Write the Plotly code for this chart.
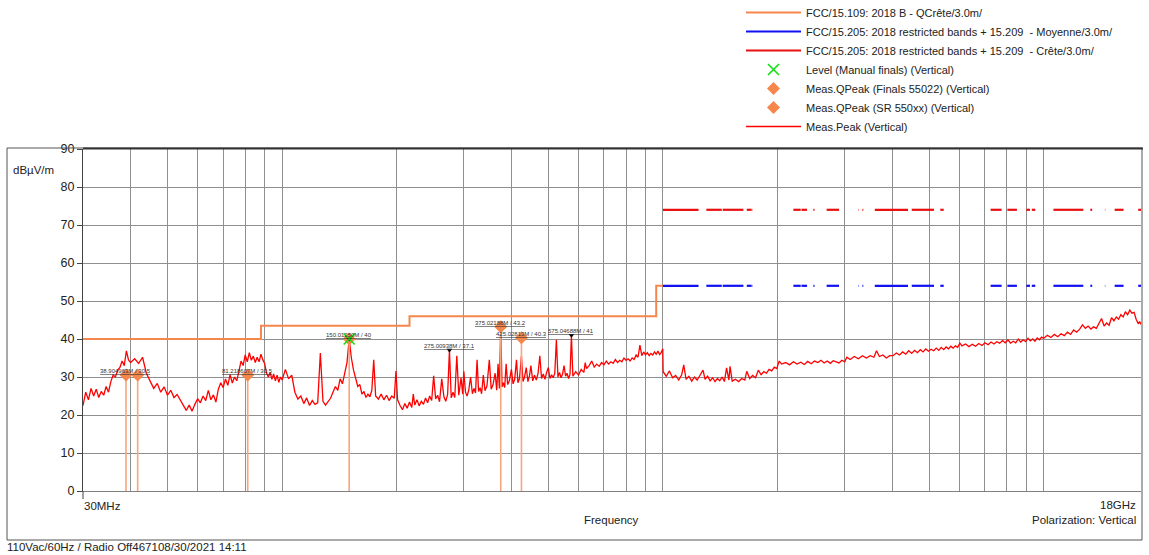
import math
import plotly.graph_objects as go

# ---------------- data ----------------
# FCC 15.109 class B quasi-peak limit (MHz, dBuV/m)
qp_limit_freq = [30, 88, 88, 216, 216, 960, 960, 1000]
qp_limit_level = [40, 40, 43.5, 43.5, 46, 46, 54, 54]

# FCC 15.205 restricted bands above 1 GHz (MHz)
restricted_bands = [
    (1000, 1240), (1300, 1427), (1435, 1626.5), (1645.5, 1646.5), (1660, 1710),
    (1718.8, 1722.2), (2200, 2300), (2310, 2390), (2483.5, 2500), (2690, 2900),
    (3260, 3267), (3332, 3339), (3345.8, 3358), (3600, 4400), (4500, 5150),
    (5350, 5460), (7250, 7750), (8025, 8500), (9000, 9200), (9300, 9500),
    (10600, 12700), (13250, 13400), (14470, 14500), (15350, 16200), (17700, 18000),
]
avg_limit_level = 54
peak_limit_level = 74

# Measured peak sweep (MHz, dBuV/m)
peak_freq = [
    30, 30.5, 31, 31.5, 32, 32.5, 33, 33.5, 34, 34.5, 35, 35.5, 36, 36.5, 37, 37.5, 38, 38.5, 39, 39.5, 40,
    41, 42, 43, 44, 45, 46, 47, 48, 49, 50, 51, 52, 53, 54, 55, 56, 57, 58, 59, 60,
    61, 62, 63, 64, 65, 66, 67, 68, 69, 70,
    71, 72, 73, 74, 75, 76, 77, 78, 79, 80, 81, 82, 83, 84, 85, 86, 87, 88, 89, 90,
    91, 92, 93, 94, 95, 96, 97, 98, 99, 100,
    102, 104, 106, 108, 110, 112, 114, 116, 118, 120, 122, 124, 126, 128, 130, 132, 134, 136, 138, 140,
    142, 144, 146, 148, 150, 152, 154, 156, 158, 160, 162, 164, 166, 168, 170,
    172, 174, 176, 179, 182, 185, 188, 191, 194, 197, 199, 201, 204, 207, 210, 213, 216, 219, 221, 223,
    226, 229, 232, 235, 238, 241, 244, 247, 250, 253,
    256, 259, 262.5, 266, 269, 272, 275, 278, 281, 284, 287.5, 291, 295, 298, 300, 303, 306, 309, 312.5,
    316, 319, 322, 325, 328, 331, 334, 337.5, 341, 345, 350, 354, 358, 362.5, 366, 369, 372, 375, 378,
    381, 384, 387.5, 391, 395, 400, 404, 408, 412.5, 416, 420, 425, 429, 433, 437.5, 442, 446, 450, 455,
    460, 465, 470, 475, 480, 485, 490, 495, 500, 505, 510, 515, 520, 525, 530, 535, 540, 545, 550, 555,
    560, 565, 570, 575, 580, 590, 600, 610, 620, 625, 630, 640, 650, 660, 670, 680, 690, 700, 710, 720,
    730, 740, 750, 760, 770, 780, 790, 800, 810, 820, 830, 840, 850, 860, 870, 880, 890, 900, 910, 920,
    930, 940, 950, 960, 970, 980, 990, 999,
    1001, 1020, 1040, 1060, 1080, 1100, 1120, 1134, 1150, 1170, 1190, 1210, 1230, 1250, 1274, 1290,
    1310, 1330, 1350, 1370, 1390, 1410, 1430, 1450, 1469, 1490, 1500, 1520, 1550, 1580, 1610, 1640,
    1660, 1690, 1720, 1750, 1780, 1810, 1840, 1870, 1900, 1930, 1960, 1990, 2020, 2050, 2100, 2150,
    2200, 2250, 2300, 2350, 2400, 2450, 2500, 2550, 2600, 2650, 2700, 2750, 2800, 2850, 2900, 2950,
    3000, 3040, 3100, 3180, 3260, 3340, 3420, 3500, 3580, 3637, 3700, 3780, 3860, 3940,
    4020, 4100, 4180, 4260, 4340, 4420, 4500, 4580, 4660, 4740, 4820, 4900, 4980, 5060, 5140, 5220,
    5300, 5380, 5460, 5540, 5620, 5700, 5780, 5860, 5940, 6020, 6100, 6230, 6360, 6490, 6620, 6750,
    6880, 7010, 7140, 7270, 7400, 7530, 7660, 7790, 7920, 8050, 8180, 8310, 8440, 8570, 8700, 8830,
    8960, 9090, 9220, 9350, 9480, 9610, 9740, 9870, 10000, 10220, 10440, 10660, 10880, 11100, 11320,
    11540, 11760, 11980, 12200, 12420, 12640, 12860, 13080, 13300, 13520, 13740, 13960, 14180, 14400,
    14620, 14840, 15060, 15280, 15500, 15720, 15940, 16160, 16380, 16600, 16820, 17040, 17260, 17480,
    17700, 17850, 18000,
]
peak_level = [
    22.5, 26.0, 24.0, 27.0, 25.0, 26.8, 24.6, 26.2, 25.2, 27.5, 26.0, 28.8, 30.5, 30.0, 31.8, 32.5, 34.2, 33.0, 36.9, 34.5, 33.8,
    34.8, 33.6, 35.2, 31.0, 29.0, 27.0, 28.3, 26.0, 27.4, 25.2, 26.5, 24.6, 25.4, 24.0, 22.5, 21.2, 22.6, 21.0, 22.8, 24.3,
    23.2, 25.0, 23.8, 26.5, 24.0, 25.3, 23.4, 26.8, 28.5, 27.2,
    29.5, 27.8, 30.6, 28.4, 30.0, 29.0, 31.5, 34.2, 33.0, 35.8, 34.0, 36.4, 34.4, 35.5, 33.8, 35.2, 34.0, 36.0, 34.5, 33.5,
    31.0, 30.0, 31.2, 29.4, 30.8, 29.0, 30.5, 28.6, 30.0, 29.2,
    32.0, 29.5, 30.5, 26.0, 24.2, 25.0, 23.0, 24.5, 22.5, 23.8, 22.8, 23.2, 36.3, 23.6, 22.6, 23.5, 24.4, 26.0, 27.5, 26.5,
    29.5, 28.2, 31.5, 33.8, 40.0, 35.0, 31.8, 29.5, 27.5, 28.0, 25.5, 26.2, 24.6, 25.5, 24.8,
    26.5, 34.5, 25.0, 24.2, 25.5, 24.0, 25.2, 23.8, 25.0, 24.4, 31.6, 24.0, 22.5, 21.4, 23.0, 21.8, 23.4, 22.0, 25.5, 22.6,
    24.0, 22.4, 23.6, 22.8, 24.5, 23.2, 25.0, 23.8, 30.3, 24.2,
    25.2, 23.5, 29.5, 24.8, 23.6, 25.4, 37.1, 24.5, 26.0, 24.6, 35.6, 25.2, 29.8, 25.5, 31.5, 26.0, 25.0, 26.5, 30.0,
    25.6, 27.0, 25.8, 34.5, 26.2, 27.2, 25.6, 30.5, 26.4, 27.6, 34.5, 26.8, 28.0, 31.0, 26.5, 33.5, 27.0, 43.2, 27.4,
    28.5, 27.2, 33.5, 28.0, 29.0, 32.0, 28.2, 29.4, 34.5, 28.5, 29.6, 35.5, 28.8, 30.0, 32.5, 28.8, 30.2, 33.0, 29.0,
    30.5, 29.2, 31.0, 35.6, 29.6, 30.8, 29.4, 31.2, 32.5, 29.6, 30.6, 29.8, 31.0, 39.8, 30.0, 31.2, 29.8, 30.8, 33.0, 30.2,
    31.0, 29.6, 30.6, 41.0, 30.2, 31.4, 30.5, 32.0, 31.2, 33.8, 32.2, 33.0, 34.2, 32.6, 33.4, 32.8, 33.8, 33.2, 34.2, 33.4,
    34.0, 33.6, 34.6, 33.8, 34.4, 34.0, 35.0, 34.4, 34.8, 34.2, 35.0, 34.6, 35.8, 35.2, 38.4, 35.6, 36.6, 35.8, 36.4, 35.6,
    36.2, 35.8, 36.6, 36.0, 36.8, 35.9, 36.5, 37.4,
    31.4, 30.2, 31.6, 29.8, 30.4, 29.2, 30.6, 33.2, 29.4, 30.2, 28.9, 30.0, 29.2, 30.4, 31.8, 29.4,
    30.2, 29.0, 29.8, 28.8, 29.6, 29.0, 30.0, 28.8, 32.4, 29.2, 32.8, 28.9, 29.4, 28.8, 29.6, 29.2,
    31.5, 29.6, 30.4, 29.8, 31.8, 30.6, 31.4, 31.0, 32.0, 31.6, 32.6, 32.2, 34.2, 33.4, 33.8, 33.2,
    34.0, 33.4, 33.9, 33.3, 34.1, 33.5, 34.2, 33.8, 34.4, 33.7, 34.2, 33.6, 34.3, 34.0, 33.7, 34.4,
    34.0, 35.2, 34.6, 35.4, 34.8, 35.6, 35.0, 35.6, 35.2, 36.9, 35.4, 35.8, 35.0, 35.6,
    35.6, 36.3, 35.8, 36.6, 36.0, 36.9, 36.2, 37.0, 36.4, 37.2, 36.6, 37.4, 36.8, 37.3, 36.9, 37.6,
    37.0, 37.8, 37.2, 37.9, 37.4, 38.1, 37.6, 38.2, 37.8, 38.9, 38.2, 38.7, 38.0, 38.6, 38.1, 38.8,
    38.3, 39.0, 38.5, 39.2, 38.7, 39.3, 38.9, 39.6, 39.0, 39.8, 38.9, 39.4, 39.0, 40.0, 39.2, 39.8,
    39.3, 40.2, 39.5, 40.0, 39.4, 40.3, 39.8, 40.5, 40.2, 41.0, 40.4, 41.2, 40.6, 41.4, 40.9,
    41.8, 41.2, 42.4, 41.8, 42.6, 43.7, 42.8, 43.4, 42.6, 43.2, 42.8, 44.0, 45.4, 43.4,
    44.2, 43.6, 45.6, 44.8, 45.8, 45.2, 46.4, 45.8, 47.2, 46.4, 47.6, 46.8, 47.0, 45.2,
    44.0, 44.6, 43.8,
]

# Final measurements
level_freq = [150.0125]
level_value = [40]
qp_finals_freq = [38.904963, 41.75, 81.218607, 150.0125, 425.02813]
qp_finals_level = [30.5, 30.5, 30.5, 40, 40.3]
qp_sr_freq = [375.02188]
qp_sr_level = [43.2]
peak_marker_freq = [150.0125, 275.00938, 575.04688]
peak_marker_level = [40, 37.1, 41]

label_freq = [38.904963, 81.218607, 150.0125, 275.00938, 375.02188, 425.02813, 575.04688]
label_level = [30.5, 30.5, 40, 37.1, 43.2, 40.3, 41]
label_text = ["38.904963M / 30.5", "81.218607M / 30.5", "150.01250M / 40", "275.00938M / 37.1",
              "375.02188M / 43.2", "425.02813M / 40.3", "575.04688M / 41"]

grid_freq = [40, 50, 60, 70, 80, 90, 100, 200, 300, 400, 500, 600, 700, 800, 900,
             1000, 2000, 3000, 4000, 5000, 6000, 7000, 8000, 9000, 10000]

# ---------------- layout helpers ----------------
W, H = 1149, 555
L, R, T, B = 83, 8, 149, 64
PW, PH = W - L - R, H - T - B

def px(x):
    return (x - L) / PW

def py(y):
    return (H - B - y) / PH

FONT = "Arial, Liberation Sans, sans-serif"
ORANGE = "#f5874c"

def band_series(level):
    xs, ys = [], []
    for a, b in restricted_bands:
        xs += [a, b, None]
        ys += [level, level, None]
    return xs, ys

fig = go.Figure()

fig.add_trace(go.Scatter(x=qp_limit_freq, y=qp_limit_level, mode="lines",
                         line=dict(color=ORANGE, width=2), legendrank=1,
                         name="FCC/15.109: 2018 B - QCrête/3.0m/"))
bx, by = band_series(avg_limit_level)
fig.add_trace(go.Scatter(x=bx, y=by, mode="lines", line=dict(color="#1010f0", width=2.2),
                         legendrank=2, connectgaps=False,
                         name="FCC/15.205: 2018 restricted bands + 15.209  - Moyenne/3.0m/"))
rx, ry = band_series(peak_limit_level)
fig.add_trace(go.Scatter(x=rx, y=ry, mode="lines", line=dict(color="#e81010", width=2.2),
                         legendrank=3, connectgaps=False,
                         name="FCC/15.205: 2018 restricted bands + 15.209  - Crête/3.0m/"))
fig.add_trace(go.Scatter(x=peak_freq, y=peak_level, mode="lines",
                         line=dict(color="#ff0000", width=1.3), legendrank=7,
                         name="Meas.Peak (Vertical)"))
fig.add_trace(go.Scatter(x=qp_finals_freq, y=qp_finals_level, mode="markers",
                         marker=dict(symbol="diamond", size=10, color=ORANGE),
                         error_y=dict(type="data", symmetric=False, array=[0] * len(qp_finals_level),
                                      arrayminus=qp_finals_level, color="#f7a67c", thickness=1.6, width=0),
                         legendrank=5, name="Meas.QPeak (Finals 55022) (Vertical)"))
fig.add_trace(go.Scatter(x=qp_sr_freq, y=qp_sr_level, mode="markers",
                         marker=dict(symbol="diamond", size=10, color=ORANGE),
                         error_y=dict(type="data", symmetric=False, array=[0] * len(qp_sr_level),
                                      arrayminus=qp_sr_level, color="#f7a67c", thickness=1.6, width=0),
                         legendrank=6, name="Meas.QPeak (SR 550xx) (Vertical)"))
fig.add_trace(go.Scatter(x=peak_marker_freq, y=peak_marker_level, mode="markers",
                         marker=dict(symbol="triangle-down", size=5, color="#000000"),
                         showlegend=False, name="peak markers"))
fig.add_trace(go.Scatter(x=level_freq, y=level_value, mode="markers",
                         marker=dict(symbol="x-thin", size=11, color="#10e010",
                                     line=dict(color="#10e010", width=1.6)),
                         legendrank=4, name="Level (Manual finals) (Vertical)"))

annotations = []
for f, v, t in zip(label_freq, label_level, label_text):
    # annotation x on a log axis is given in log10 units
    annotations.append(dict(x=math.log10(f), y=v, xref="x", yref="y", text="<u>" + t + "</u>",
                            showarrow=False, xanchor="center", yanchor="bottom", yshift=-1,
                            font=dict(family=FONT, size=6, color="#333333")))

def note(text, x, y, xa, ya="middle", size=11.5):
    annotations.append(dict(text=text, x=px(x), y=py(y), xref="paper", yref="paper",
                            xanchor=xa, yanchor=ya, showarrow=False,
                            font=dict(family=FONT, size=size, color="#222222")))

note("dBµV/m", 11, 170, "left")
note("30MHz", 82, 506, "left")
note("18GHz", 1138, 505, "right")
note("Frequency", 611, 520, "center")
note("Polarization: Vertical", 1138, 520, "right")
note("110Vac/60Hz / Radio Off467108/30/2021 14:11", 5, 547, "left")

shapes = [
    dict(type="rect", xref="paper", yref="paper", x0=px(7), x1=px(1142), y0=py(540), y1=py(148),
         line=dict(color="#555555", width=1)),
    dict(type="line", xref="paper", yref="paper", x0=px(83), x1=px(1143), y0=py(148.5), y1=py(148.5),
         line=dict(color="#333333", width=2)),
    dict(type="line", xref="paper", yref="paper", x0=0, x1=0, y0=py(491), y1=py(499),
         line=dict(color="#444444", width=1)),
]

fig.update_layout(
    width=W, height=H, margin=dict(l=L, r=R, t=T, b=B, autoexpand=False),
    paper_bgcolor="white", plot_bgcolor="white",
    font=dict(family=FONT, size=11.5, color="#222222"),
    showlegend=True,
    legend=dict(x=px(741), y=py(-2), xanchor="left", yanchor="top", bgcolor="rgba(0,0,0,0)",
                font=dict(family=FONT, size=11, color="#222222"), tracegroupgap=0,
                itemwidth=55),
    annotations=annotations, shapes=shapes,
    xaxis=dict(type="log", range=[1.4771213, 4.2552725], tickvals=grid_freq,
               ticktext=[""] * len(grid_freq), ticks="", showgrid=True, gridcolor="#8f8f8f",
               gridwidth=1, showline=True, linecolor="#808080", linewidth=1, mirror=False,
               zeroline=False, fixedrange=True),
    yaxis=dict(range=[0, 90], dtick=10, tick0=0, ticks="outside", ticklen=5, tickcolor="#444444",
               showgrid=True, gridcolor="#8f8f8f", gridwidth=1, showline=True, linecolor="#444444",
               linewidth=1, zeroline=False, tickfont=dict(family=FONT, size=12.5, color="#222222"),
               fixedrange=True),
)

fig.write_html("out.html")
